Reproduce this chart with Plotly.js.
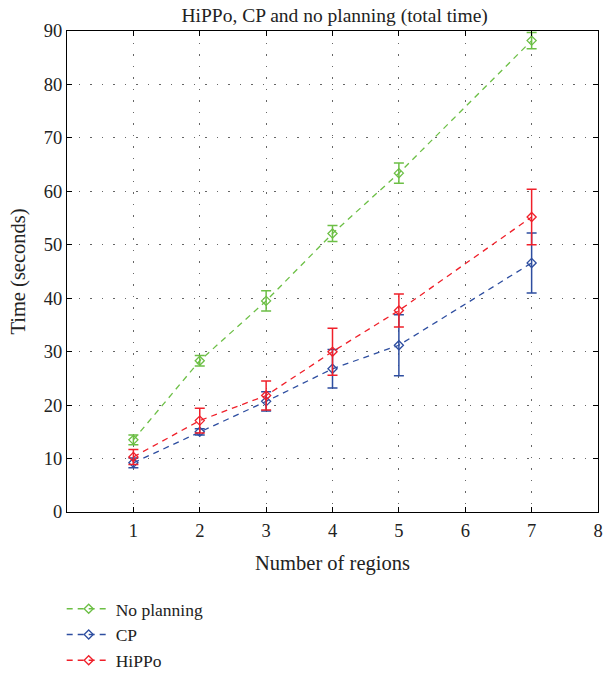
<!DOCTYPE html>
<html><head><meta charset="utf-8">
<script src="https://cdn.plot.ly/plotly-3.0.1.min.js"></script>
<style>body{margin:0;background:#fff}#c{width:603px;height:675px}</style>
</head><body><div id="c"></div>
<script>
const regions = [1, 2, 3, 4, 5, 7];
const noPlanning = [13.5, 28.3, 39.5, 52.1, 63.4, 88.2];
const noPlanningErr = [0.9, 1.0, 1.9, 1.5, 1.9, 1.5];
const cp = [9.2, 15.0, 20.7, 26.8, 31.2, 46.6];
const cpErr = [0.9, 0.6, 1.8, 3.6, 5.7, 5.6];
const hippo = [10.3, 17.1, 21.8, 30.0, 37.7, 55.2];
const hippoErr = [1.4, 2.3, 2.7, 4.4, 3.1, 5.2];
const seriesNames = ["No planning", "CP", "HiPPo"];
const colors = ["#6cbf45", "#2e4ea0", "#f0202a"];
const xTicks = [1, 2, 3, 4, 5, 6, 7, 8];
const yTicks = [0, 10, 20, 30, 40, 50, 60, 70, 80, 90];

const ys = [noPlanning, cp, hippo];
const errs = [noPlanningErr, cpErr, hippoErr];
const traces = ys.map((y, i) => ({
  x: regions, y: y, name: seriesNames[i], type: 'scatter', mode: 'lines+markers',
  line: {color: colors[i], width: 1.3, dash: '6px,5px'},
  marker: {symbol: 'diamond-open', size: 7, color: colors[i], line: {width: 1.3}},
  error_y: {type: 'data', array: errs[i], visible: true, color: colors[i], thickness: 1.5, width: 5}
}));
const font = {family: '"Liberation Serif", "DejaVu Serif", serif', color: '#222'};
const axisCommon = {
  showline: true, linecolor: '#000', linewidth: 1, mirror: 'ticks',
  ticks: 'inside', ticklen: 5, tickcolor: '#000',
  showgrid: true, gridcolor: '#666', griddash: '1.5px,10px', gridwidth: 1.2, zeroline: false,
  tickfont: {size: 18.5}
};
const layout = {
  width: 603, height: 675,
  margin: {l: 67, r: 5, t: 31, b: 163, autoexpand: false},
  font: Object.assign({size: 18}, font),
  paper_bgcolor: '#fff', plot_bgcolor: '#fff',
  title: {text: 'HiPPo, CP and no planning (total time)', font: {size: 19.5}, x: 0.555, xanchor: 'center', y: 0.978, yanchor: 'middle'},
  xaxis: Object.assign({}, axisCommon, {range: [0, 8], tickvals: xTicks, automargin: false, ticklabelstandoff: 2,
    title: {text: 'Number of regions', font: {size: 20.5}, standoff: 15}}),
  yaxis: Object.assign({}, axisCommon, {range: [0, 90], tickvals: yTicks, automargin: false,
    title: {text: 'Time (seconds)', font: {size: 20.5}, standoff: 12}}),
  showlegend: true,
  legend: {x: -0.01, xanchor: 'left', y: -0.164, yanchor: 'top', orientation: 'v',
    font: {size: 17.5}, bgcolor: 'rgba(0,0,0,0)', tracegroupgap: 0, itemwidth: 44}
};
Plotly.newPlot('c', traces, layout, {displayModeBar: false, staticPlot: true});
</script></body></html>
